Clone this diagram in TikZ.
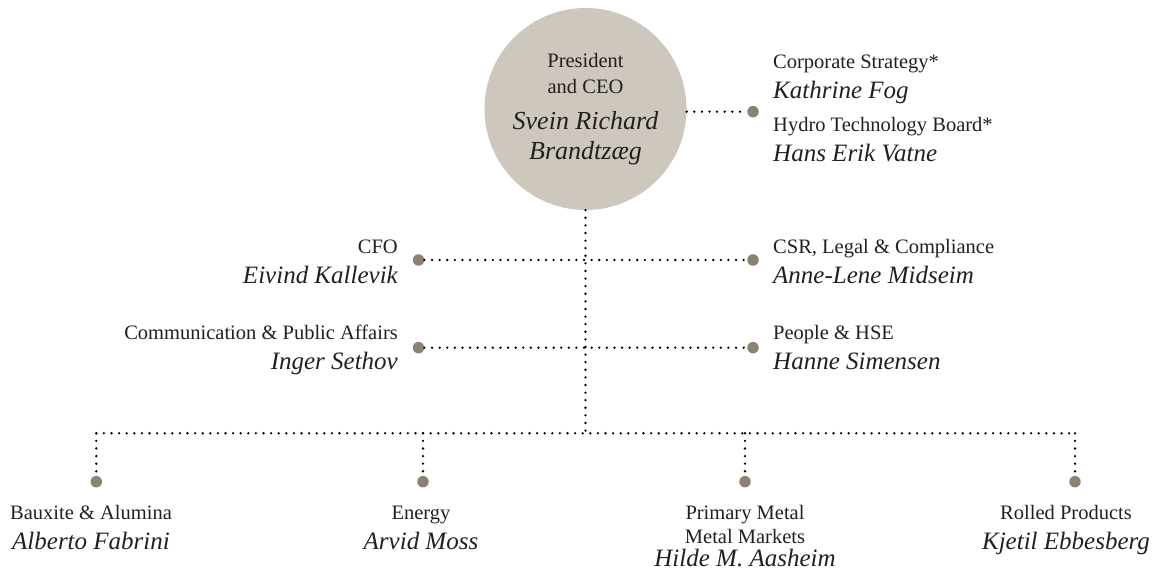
\documentclass[tikz,border=0pt]{standalone}
\usepackage{fontspec}
\setmainfont{Liberation Serif}
\usetikzlibrary{positioning}
\definecolor{ink}{HTML}{231F20}
\definecolor{stone}{HTML}{CDC7BE}
\definecolor{taupe}{HTML}{8C8272}
\newcommand{\who}[2][25]{{\fontsize{#1}{30}\selectfont\itshape #2}}
\begin{document}
\begin{tikzpicture}[
  x=1pt, y=1pt,
  boss/.style={circle, fill=stone, minimum size=202pt, inner sep=0pt, align=center, text=ink, font=\fontsize{20.5}{26}\selectfont},
  spot/.style={circle, fill=taupe, minimum size=11.5pt, inner sep=0pt},
  role/.style={text=ink, inner sep=0pt, font=\fontsize{20.5}{30}\selectfont},
  e/.style={line width=2.6pt, line cap=round, dash pattern=on 0pt off 7.6pt}
]
\useasboundingbox (0,0) rectangle (1163,580);

% top
\node[boss] (ceo) at (585.5,471) {President\\and CEO\\[10pt]\who[26]{Svein Richard}\\[4pt]\who[26]{Brandtzæg}};
\node[spot] (dstaff) at (753,468.3) {};
\node[role, align=left, anchor=base west] (strat) at (773,481.7) {Corporate Strategy*\\\who{Kathrine Fog}};
\node[role, align=left, anchor=base west] (tech) at (773,418.3) {Hydro Technology Board*\\\who{Hans Erik Vatne}};

% staff rows
\node[spot] (dcfo) at (418.5,320) {};
\node[spot] (dcsr) at (753,320) {};
\node[role, align=right, anchor=base east] (cfo) at (398,296.7) {CFO\\\who{Eivind Kallevik}};
\node[role, align=left, anchor=base west] (csr) at (773,296.7) {CSR, Legal \& Compliance\\\who{Anne-Lene Midseim}};
\node[spot] (dcom) at (418.5,232.3) {};
\node[spot] (dhse) at (753,232.3) {};
\node[role, align=right, anchor=base east] (com) at (398,210) {Communication \& Public Affairs\\\who{Inger Sethov}};
\node[role, align=left, anchor=base west] (hse) at (773,210) {People \& HSE\\\who{Hanne Simensen}};

% business areas
\coordinate (bus) at (585.5,146.7);
\node[spot] (dbx) at (96.3,98.3) {};
\node[spot] (den) at (423,98.3) {};
\node[spot] (dpm) at (745,98.3) {};
\node[spot] (drp) at (1075,98.3) {};
\node[role, align=center, anchor=base] (bx) at (91,30) {Bauxite \& Alumina\\\who{Alberto Fabrini}};
\node[role, align=center, anchor=base] (en) at (421,30) {Energy\\\who{Arvid Moss}};
\node[role, align=center, anchor=base] (pm) at (745,13.3) {Primary Metal\\[-6pt]Metal Markets\\[-7pt]\who{Hilde M. Aasheim}};
\node[role, align=center, anchor=base] (rp) at (1066,30) {Rolled Products\\\who{Kjetil Ebbesberg}};

\draw[e] (ceo.east |- dstaff) -- (dstaff);
\draw[e] (ceo) -- (bus);
\draw[e] (dcfo) -- (dcsr);
\draw[e] (dcom) -- (dhse);
\draw[e] (dbx |- bus) -- (drp |- bus);
\draw[e] (dbx |- bus) -- (dbx);
\draw[e] (den |- bus) -- (den);
\draw[e] (dpm |- bus) -- (dpm);
\draw[e] (drp |- bus) -- (drp);
\end{tikzpicture}
\end{document}
